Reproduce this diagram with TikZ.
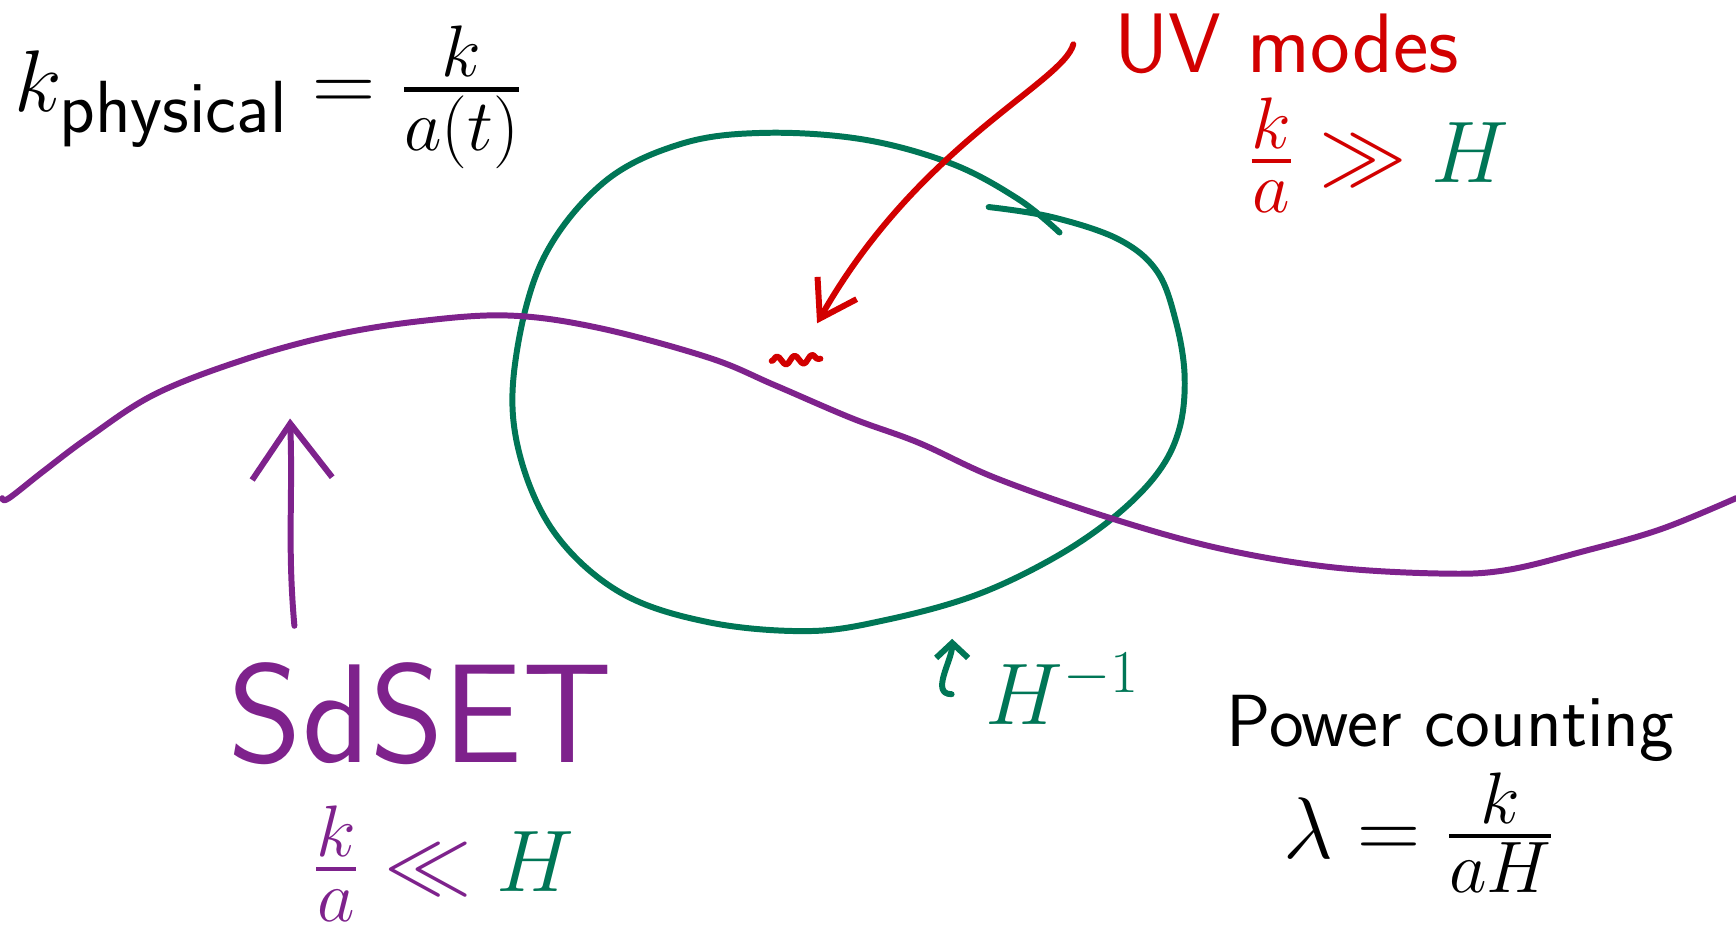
\documentclass[tikz,border=0pt]{standalone}
\usepackage{amsmath,amssymb}
\usepackage{tikz}
\usetikzlibrary{arrows.meta,decorations.pathmorphing}

\definecolor{uvred}{RGB}{210,0,0}
\definecolor{hgreen}{RGB}{0,118,86}
\definecolor{sdpurple}{RGB}{126,34,140}

\begin{document}
\begin{tikzpicture}[
  x=0.01107cm, y=-0.01107cm,
  every node/.style={inner sep=0pt},
  pen/.style={line width=1.7pt, line cap=round, line join=round},
  word/.style={font=\sffamily\fontsize{21}{25}\selectfont},
  eqn/.style={font=\fontsize{28}{32}\selectfont},
]
\useasboundingbox (0,0) rectangle (1568,845);

% horizon and mode
\draw[pen, hgreen] plot[smooth, tension=0.6] coordinates {
  (893,187) (950,196) (1010,216) (1045,245) (1062,290) (1070,340)
  (1065,388) (1045,428) (1005,468) (950,505) (880,538) (800,560)
  (730,570) (640,562) (560,535) (500,480) (468,405) (465,330)
  (490,235) (545,165) (615,130) (690,120) (780,126) (860,148)
  (920,180) (957,210)};
\draw[pen, sdpurple] plot[smooth, tension=0.6] coordinates {
  (2,450) (8,450) (40,425) (80,395) (140,356) (220,325) (300,303)
  (380,290) (460,285) (540,296) (640,323) (700,348) (770,378)
  (830,400) (900,432) (1000,467) (1100,495) (1200,512) (1300,518)
  (1360,515) (1430,498) (1500,478) (1568,450)};

% labels
\node[eqn, font=\fontsize{32}{36}\selectfont] (kphys) at (243,88)
  {$k_{\mbox{\sffamily\fontsize{21}{25}\selectfont physical}} = \frac{k}{a(t)}$};
\node[word, font=\sffamily\fontsize{24}{28}\selectfont, text=uvred] (uv) at (1162,40) {UV modes};
\node[eqn, text=uvred] (uvrel) at (1245,140) {$\frac{k}{a} \gg {\color{hgreen}H}$};
\node[font=\sffamily\fontsize{40}{44}\selectfont, text=sdpurple] (sdset) at (380,645) {SdSET};
\node[eqn, text=sdpurple] (sdrel) at (400,780) {$\frac{k}{a} \ll {\color{hgreen}H}$};
\node[eqn, font=\fontsize{23}{28}\selectfont, text=hgreen] (hinv) at (960,622) {$H^{-1}$};
\node[word] (power) at (1310,658) {Power counting};
\node[eqn] (lam) at (1282,752) {$\lambda = \frac{k}{aH}$};

% arrows
\coordinate (uvTip) at (738,292);
\coordinate (pTip) at (262,378);
\coordinate (gTip) at (860,577);
\draw[pen, uvred, -{Straight Barb[length=0.35cm, width=0.45cm]}]
  ([xshift=-0.4cm]uv.west) .. controls (960,75) and (830,130) .. (uvTip);
\draw[pen, uvred, decorate, decoration={snake, segment length=5pt, amplitude=1.2pt}]
  (697,326) -- (741,324);
\draw[pen, sdpurple, -{Straight Barb[length=0.55cm, width=0.8cm]}]
  ([shift={(60,-33)}]sdset.north west) to[out=95, in=-88] (pTip);
\draw[pen, hgreen, -{Straight Barb[length=0.15cm, width=0.32cm]}]
  ([shift={(-30,5)}]hinv.west) to[out=180, in=-90] (gTip);
\end{tikzpicture}
\end{document}
